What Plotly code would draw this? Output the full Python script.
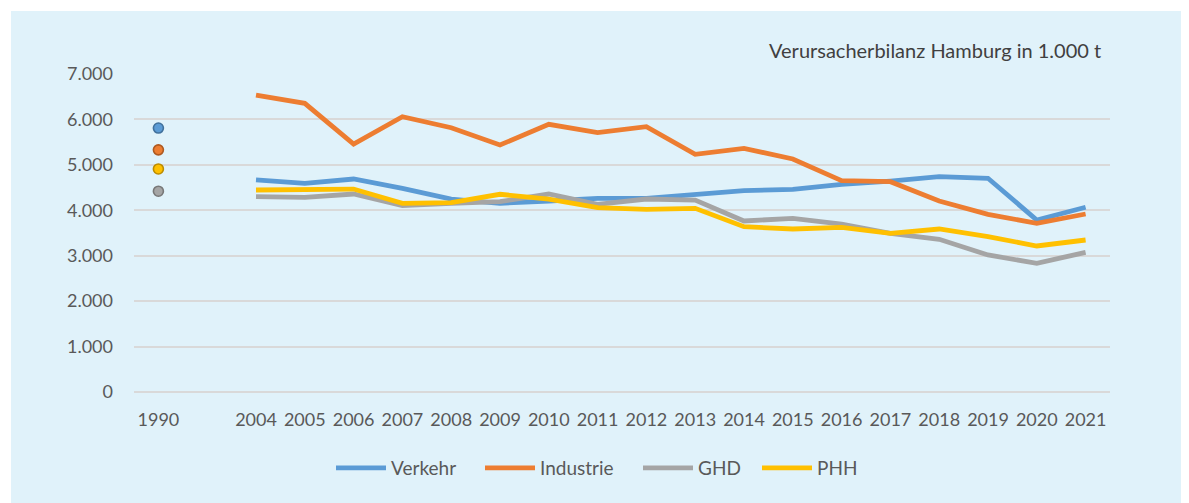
import plotly.graph_objects as go

categories = ["1990", " ", "2004", "2005", "2006", "2007", "2008", "2009", "2010", "2011",
              "2012", "2013", "2014", "2015", "2016", "2017", "2018", "2019", "2020", "2021"]
years = categories[2:]

verkehr_1990 = 5810
industrie_1990 = 5330
phh_1990 = 4910
ghd_1990 = 4420

verkehr = [4670, 4594, 4689, 4484, 4248, 4154, 4204, 4264, 4264, 4336, 4431, 4462, 4572, 4644, 4739, 4704, 3786, 4066]
industrie = [6537, 6355, 5459, 6060, 5818, 5437, 5892, 5708, 5840, 5232, 5364, 5129, 4651, 4629, 4204, 3911, 3713, 3918]
ghd = [4300, 4285, 4358, 4101, 4154, 4190, 4358, 4131, 4248, 4226, 3764, 3823, 3698, 3493, 3361, 3016, 2833, 3075]
phh = [4446, 4446, 4468, 4154, 4167, 4352, 4248, 4057, 4021, 4043, 3639, 3588, 3625, 3493, 3588, 3419, 3214, 3346]

series = [
    ("Verkehr", verkehr, verkehr_1990, "#5B9BD5", "#41719C", 84),
    ("Industrie", industrie, industrie_1990, "#ED7D31", "#AE5A21", 93),
    ("GHD", ghd, ghd_1990, "#A5A5A5", "#787878", 54),
    ("PHH", phh, phh_1990, "#FFC000", "#BC8C00", 45),
]

BG = "#E0F2FA"
TXT = "#595959"
FONT = "Lato"

fig = go.Figure()
for name, vals, v90, col, dark, lw in series:
    fig.add_trace(go.Scatter(x=years, y=vals, mode="lines", name=name, legendwidth=lw,
                             line=dict(color=col, width=4.8)))
for name, vals, v90, col, dark, lw in series:
    fig.add_trace(go.Scatter(x=["1990"], y=[v90], mode="markers", showlegend=False,
                             marker=dict(color=col, size=10, line=dict(color=dark, width=1.6))))

OFF = 8  # page body margin
W, H = 1189 - OFF, 503 - OFF
L, T = 134 - OFF, 74 - OFF
R = W - (1110 - OFF)
B = H - (392 - OFF)
pw, ph = W - L - R, H - T - B

def px(xs):
    return (xs - OFF - L) / pw

def py(ys):
    return (H - B - (ys - OFF)) / ph

fig.update_layout(
    width=W, height=H,
    margin=dict(l=L, r=R, t=T, b=B),
    paper_bgcolor=BG, plot_bgcolor=BG,
    separators=",.",
    font=dict(family=FONT, color=TXT, size=18),
    xaxis=dict(type="category", categoryorder="array", categoryarray=categories,
               range=[-0.5, len(categories) - 0.5],
               showgrid=False, showline=False, ticks="", ticklabelstandoff=15,
               tickfont=dict(size=18, color=TXT), fixedrange=True),
    yaxis=dict(range=[0, 7000], tickvals=[0, 1000, 2000, 3000, 4000, 5000, 6000, 7000],
               tickformat=",d", showgrid=True, gridcolor="#D9D9D9", gridwidth=1.5,
               zeroline=True, zerolinecolor="#D9D9D9", zerolinewidth=1.5,
               showline=False, ticks="", ticklabelstandoff=20,
               tickfont=dict(size=18, color=TXT)),
    legend=dict(orientation="h", x=px(331), xanchor="left", y=py(468), yanchor="middle",
                font=dict(size=19, color=TXT), bgcolor="rgba(0,0,0,0)", itemwidth=50),
    showlegend=True,
    annotations=[dict(text="Verursacherbilanz Hamburg in 1.000 t", xref="paper", yref="paper",
                      x=px(1103), y=py(50), xanchor="right", yanchor="middle", showarrow=False,
                      font=dict(size=20, color="#404040", family=FONT))],
    shapes=[
        dict(type="rect", xref="paper", yref="paper", x0=px(0), x1=px(1189), y0=py(0), y1=py(11),
             fillcolor="white", line=dict(width=0), layer="above"),
        dict(type="rect", xref="paper", yref="paper", x0=px(0), x1=px(11), y0=py(0), y1=py(503),
             fillcolor="white", line=dict(width=0), layer="above"),
    ],
)

fig.write_html("out.html")
